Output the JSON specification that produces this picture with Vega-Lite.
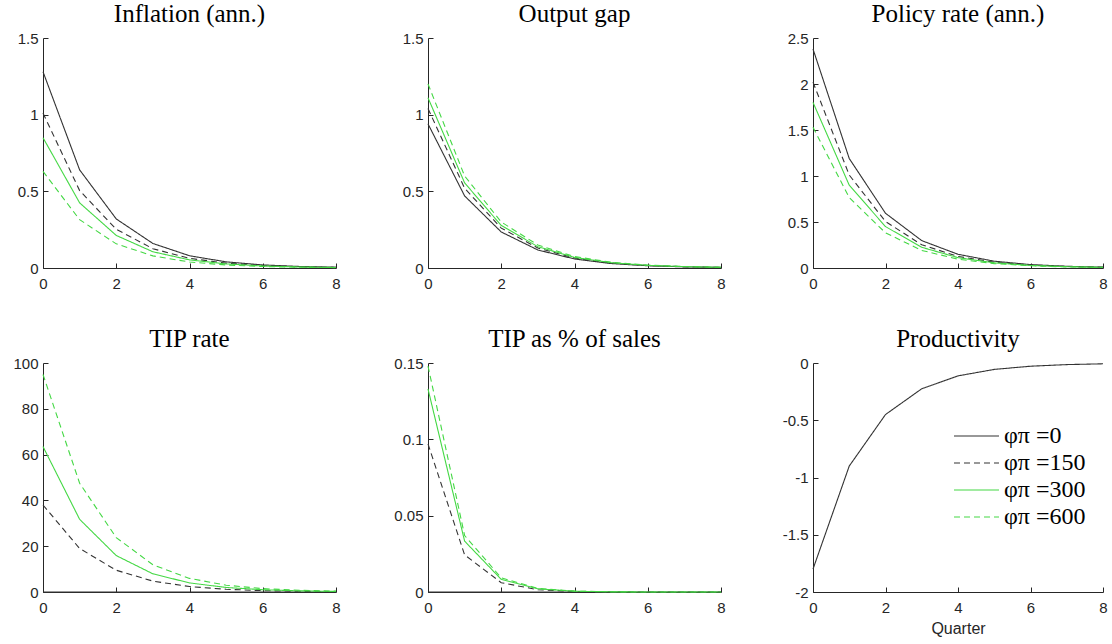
{
  "$schema": "https://vega.github.io/schema/vega-lite/v6.json",
  "padding": {"left": 12, "top": 2, "right": 5, "bottom": 5},
  "background": "white",
  "datasets": {
    "d": [
      {"p":1,"s":"0","q":0,"v":1.28},{"p":1,"s":"0","q":1,"v":0.64},{"p":1,"s":"0","q":2,"v":0.32},{"p":1,"s":"0","q":3,"v":0.16},{"p":1,"s":"0","q":4,"v":0.08},{"p":1,"s":"0","q":5,"v":0.04},{"p":1,"s":"0","q":6,"v":0.02},{"p":1,"s":"0","q":7,"v":0.01},{"p":1,"s":"0","q":8,"v":0.005},
      {"p":1,"s":"150","q":0,"v":1.01},{"p":1,"s":"150","q":1,"v":0.505},{"p":1,"s":"150","q":2,"v":0.2525},{"p":1,"s":"150","q":3,"v":0.126},{"p":1,"s":"150","q":4,"v":0.063},{"p":1,"s":"150","q":5,"v":0.0316},{"p":1,"s":"150","q":6,"v":0.0158},{"p":1,"s":"150","q":7,"v":0.0079},{"p":1,"s":"150","q":8,"v":0.004},
      {"p":1,"s":"300","q":0,"v":0.85},{"p":1,"s":"300","q":1,"v":0.425},{"p":1,"s":"300","q":2,"v":0.2125},{"p":1,"s":"300","q":3,"v":0.106},{"p":1,"s":"300","q":4,"v":0.053},{"p":1,"s":"300","q":5,"v":0.0266},{"p":1,"s":"300","q":6,"v":0.0133},{"p":1,"s":"300","q":7,"v":0.0066},{"p":1,"s":"300","q":8,"v":0.0033},
      {"p":1,"s":"600","q":0,"v":0.63},{"p":1,"s":"600","q":1,"v":0.315},{"p":1,"s":"600","q":2,"v":0.1575},{"p":1,"s":"600","q":3,"v":0.079},{"p":1,"s":"600","q":4,"v":0.039},{"p":1,"s":"600","q":5,"v":0.0197},{"p":1,"s":"600","q":6,"v":0.0098},{"p":1,"s":"600","q":7,"v":0.0049},{"p":1,"s":"600","q":8,"v":0.0025},
      {"p":2,"s":"0","q":0,"v":0.94},{"p":2,"s":"0","q":1,"v":0.47},{"p":2,"s":"0","q":2,"v":0.235},{"p":2,"s":"0","q":3,"v":0.1175},{"p":2,"s":"0","q":4,"v":0.059},{"p":2,"s":"0","q":5,"v":0.029},{"p":2,"s":"0","q":6,"v":0.0147},{"p":2,"s":"0","q":7,"v":0.0073},{"p":2,"s":"0","q":8,"v":0.0037},
      {"p":2,"s":"150","q":0,"v":1.04},{"p":2,"s":"150","q":1,"v":0.52},{"p":2,"s":"150","q":2,"v":0.26},{"p":2,"s":"150","q":3,"v":0.13},{"p":2,"s":"150","q":4,"v":0.065},{"p":2,"s":"150","q":5,"v":0.0325},{"p":2,"s":"150","q":6,"v":0.0163},{"p":2,"s":"150","q":7,"v":0.0081},{"p":2,"s":"150","q":8,"v":0.0041},
      {"p":2,"s":"300","q":0,"v":1.11},{"p":2,"s":"300","q":1,"v":0.555},{"p":2,"s":"300","q":2,"v":0.2775},{"p":2,"s":"300","q":3,"v":0.139},{"p":2,"s":"300","q":4,"v":0.069},{"p":2,"s":"300","q":5,"v":0.0347},{"p":2,"s":"300","q":6,"v":0.0173},{"p":2,"s":"300","q":7,"v":0.0087},{"p":2,"s":"300","q":8,"v":0.0043},
      {"p":2,"s":"600","q":0,"v":1.2},{"p":2,"s":"600","q":1,"v":0.6},{"p":2,"s":"600","q":2,"v":0.3},{"p":2,"s":"600","q":3,"v":0.15},{"p":2,"s":"600","q":4,"v":0.075},{"p":2,"s":"600","q":5,"v":0.0375},{"p":2,"s":"600","q":6,"v":0.0188},{"p":2,"s":"600","q":7,"v":0.0094},{"p":2,"s":"600","q":8,"v":0.0047},
      {"p":3,"s":"0","q":0,"v":2.38},{"p":3,"s":"0","q":1,"v":1.19},{"p":3,"s":"0","q":2,"v":0.595},{"p":3,"s":"0","q":3,"v":0.2975},{"p":3,"s":"0","q":4,"v":0.149},{"p":3,"s":"0","q":5,"v":0.074},{"p":3,"s":"0","q":6,"v":0.037},{"p":3,"s":"0","q":7,"v":0.0186},{"p":3,"s":"0","q":8,"v":0.0093},
      {"p":3,"s":"150","q":0,"v":2.02},{"p":3,"s":"150","q":1,"v":1.01},{"p":3,"s":"150","q":2,"v":0.505},{"p":3,"s":"150","q":3,"v":0.2525},{"p":3,"s":"150","q":4,"v":0.126},{"p":3,"s":"150","q":5,"v":0.063},{"p":3,"s":"150","q":6,"v":0.0316},{"p":3,"s":"150","q":7,"v":0.0158},{"p":3,"s":"150","q":8,"v":0.0079},
      {"p":3,"s":"300","q":0,"v":1.8},{"p":3,"s":"300","q":1,"v":0.9},{"p":3,"s":"300","q":2,"v":0.45},{"p":3,"s":"300","q":3,"v":0.225},{"p":3,"s":"300","q":4,"v":0.1125},{"p":3,"s":"300","q":5,"v":0.056},{"p":3,"s":"300","q":6,"v":0.028},{"p":3,"s":"300","q":7,"v":0.014},{"p":3,"s":"300","q":8,"v":0.007},
      {"p":3,"s":"600","q":0,"v":1.53},{"p":3,"s":"600","q":1,"v":0.765},{"p":3,"s":"600","q":2,"v":0.3825},{"p":3,"s":"600","q":3,"v":0.191},{"p":3,"s":"600","q":4,"v":0.096},{"p":3,"s":"600","q":5,"v":0.048},{"p":3,"s":"600","q":6,"v":0.024},{"p":3,"s":"600","q":7,"v":0.012},{"p":3,"s":"600","q":8,"v":0.006},
      {"p":4,"s":"0","q":0,"v":0},{"p":4,"s":"0","q":1,"v":0},{"p":4,"s":"0","q":2,"v":0},{"p":4,"s":"0","q":3,"v":0},{"p":4,"s":"0","q":4,"v":0},{"p":4,"s":"0","q":5,"v":0},{"p":4,"s":"0","q":6,"v":0},{"p":4,"s":"0","q":7,"v":0},{"p":4,"s":"0","q":8,"v":0},
      {"p":4,"s":"150","q":0,"v":38},{"p":4,"s":"150","q":1,"v":19},{"p":4,"s":"150","q":2,"v":9.5},{"p":4,"s":"150","q":3,"v":4.75},{"p":4,"s":"150","q":4,"v":2.38},{"p":4,"s":"150","q":5,"v":1.19},{"p":4,"s":"150","q":6,"v":0.59},{"p":4,"s":"150","q":7,"v":0.3},{"p":4,"s":"150","q":8,"v":0.15},
      {"p":4,"s":"300","q":0,"v":63.5},{"p":4,"s":"300","q":1,"v":31.75},{"p":4,"s":"300","q":2,"v":15.9},{"p":4,"s":"300","q":3,"v":7.94},{"p":4,"s":"300","q":4,"v":3.97},{"p":4,"s":"300","q":5,"v":1.98},{"p":4,"s":"300","q":6,"v":0.99},{"p":4,"s":"300","q":7,"v":0.5},{"p":4,"s":"300","q":8,"v":0.25},
      {"p":4,"s":"600","q":0,"v":95},{"p":4,"s":"600","q":1,"v":47.5},{"p":4,"s":"600","q":2,"v":23.75},{"p":4,"s":"600","q":3,"v":11.9},{"p":4,"s":"600","q":4,"v":5.94},{"p":4,"s":"600","q":5,"v":2.97},{"p":4,"s":"600","q":6,"v":1.48},{"p":4,"s":"600","q":7,"v":0.74},{"p":4,"s":"600","q":8,"v":0.37},
      {"p":5,"s":"0","q":0,"v":0},{"p":5,"s":"0","q":1,"v":0},{"p":5,"s":"0","q":2,"v":0},{"p":5,"s":"0","q":3,"v":0},{"p":5,"s":"0","q":4,"v":0},{"p":5,"s":"0","q":5,"v":0},{"p":5,"s":"0","q":6,"v":0},{"p":5,"s":"0","q":7,"v":0},{"p":5,"s":"0","q":8,"v":0},
      {"p":5,"s":"150","q":0,"v":0.097},{"p":5,"s":"150","q":1,"v":0.0243},{"p":5,"s":"150","q":2,"v":0.0061},{"p":5,"s":"150","q":3,"v":0.0015},{"p":5,"s":"150","q":4,"v":0.0004},{"p":5,"s":"150","q":5,"v":0.0001},{"p":5,"s":"150","q":6,"v":0},{"p":5,"s":"150","q":7,"v":0},{"p":5,"s":"150","q":8,"v":0},
      {"p":5,"s":"300","q":0,"v":0.133},{"p":5,"s":"300","q":1,"v":0.0333},{"p":5,"s":"300","q":2,"v":0.0083},{"p":5,"s":"300","q":3,"v":0.0021},{"p":5,"s":"300","q":4,"v":0.0005},{"p":5,"s":"300","q":5,"v":0.0001},{"p":5,"s":"300","q":6,"v":0},{"p":5,"s":"300","q":7,"v":0},{"p":5,"s":"300","q":8,"v":0},
      {"p":5,"s":"600","q":0,"v":0.148},{"p":5,"s":"600","q":1,"v":0.037},{"p":5,"s":"600","q":2,"v":0.0093},{"p":5,"s":"600","q":3,"v":0.0023},{"p":5,"s":"600","q":4,"v":0.0006},{"p":5,"s":"600","q":5,"v":0.00015},{"p":5,"s":"600","q":6,"v":0},{"p":5,"s":"600","q":7,"v":0},{"p":5,"s":"600","q":8,"v":0},
      {"p":6,"s":"0","q":0,"v":-1.8},{"p":6,"s":"0","q":1,"v":-0.9},{"p":6,"s":"0","q":2,"v":-0.45},{"p":6,"s":"0","q":3,"v":-0.225},{"p":6,"s":"0","q":4,"v":-0.1125},{"p":6,"s":"0","q":5,"v":-0.056},{"p":6,"s":"0","q":6,"v":-0.028},{"p":6,"s":"0","q":7,"v":-0.014},{"p":6,"s":"0","q":8,"v":-0.007}
    ]
  },
  "config": {
    "view": {"stroke": null},
    "axis": {"grid": false, "domainColor": "#262626", "domainWidth": 1, "tickColor": "#262626", "tickSize": -5, "labelColor": "#262626", "labelFont": "Liberation Sans", "labelFontSize": 15, "labelFlush": false, "labelOverlap": false, "titleFont": "Liberation Sans", "titleFontSize": 16, "titleFontWeight": "normal", "titleColor": "#262626", "labelExpr": "'' + datum.value"},
    "axisX": {"labelPadding": 13},
    "axisY": {"labelPadding": 10},
    "title": {"font": "Liberation Serif", "fontSize": 25, "fontWeight": "normal", "color": "#000000", "offset": 4, "anchor": "middle"},
    "line": {"strokeWidth": 1.1}
  },
  "columns": 3,
  "spacing": {"row": 95, "column": 92},
  "bounds": "flush",
  "resolve": {
    "scale": {"x": "independent", "y": "independent", "color": "independent", "strokeDash": "independent"},
    "legend": {"color": "independent", "strokeDash": "independent"}
  },
  "concat": [
    {
      "title": "Inflation (ann.)", "width": 293, "height": 230,
      "data": {"name": "d"}, "transform": [{"filter": "datum.p == 1"}],
      "mark": "line",
      "encoding": {
        "x": {"field": "q", "type": "quantitative", "scale": {"domain": [0, 8]}, "axis": {"values": [0, 2, 4, 6, 8], "title": null}},
        "y": {"field": "v", "type": "quantitative", "scale": {"domain": [0, 1.5]}, "axis": {"values": [0, 0.5, 1, 1.5], "title": null}},
        "color": {"field": "s", "type": "nominal", "scale": {"domain": ["0", "150", "300", "600"], "range": ["#333333", "#333333", "#44d844", "#44d844"]}, "legend": null},
        "strokeDash": {"field": "s", "type": "nominal", "scale": {"domain": ["0", "150", "300", "600"], "range": [[1, 0], [6, 4], [1, 0], [6, 4]]}, "legend": null}
      }
    },
    {
      "title": "Output gap", "width": 293, "height": 230,
      "data": {"name": "d"}, "transform": [{"filter": "datum.p == 2"}],
      "mark": "line",
      "encoding": {
        "x": {"field": "q", "type": "quantitative", "scale": {"domain": [0, 8]}, "axis": {"values": [0, 2, 4, 6, 8], "title": null}},
        "y": {"field": "v", "type": "quantitative", "scale": {"domain": [0, 1.5]}, "axis": {"values": [0, 0.5, 1, 1.5], "title": null}},
        "color": {"field": "s", "type": "nominal", "scale": {"domain": ["0", "150", "300", "600"], "range": ["#333333", "#333333", "#44d844", "#44d844"]}, "legend": null},
        "strokeDash": {"field": "s", "type": "nominal", "scale": {"domain": ["0", "150", "300", "600"], "range": [[1, 0], [6, 4], [1, 0], [6, 4]]}, "legend": null}
      }
    },
    {
      "title": "Policy rate (ann.)", "width": 290, "height": 230,
      "data": {"name": "d"}, "transform": [{"filter": "datum.p == 3"}],
      "mark": "line",
      "encoding": {
        "x": {"field": "q", "type": "quantitative", "scale": {"domain": [0, 8]}, "axis": {"values": [0, 2, 4, 6, 8], "title": null}},
        "y": {"field": "v", "type": "quantitative", "scale": {"domain": [0, 2.5]}, "axis": {"values": [0, 0.5, 1, 1.5, 2, 2.5], "title": null}},
        "color": {"field": "s", "type": "nominal", "scale": {"domain": ["0", "150", "300", "600"], "range": ["#333333", "#333333", "#44d844", "#44d844"]}, "legend": null},
        "strokeDash": {"field": "s", "type": "nominal", "scale": {"domain": ["0", "150", "300", "600"], "range": [[1, 0], [6, 4], [1, 0], [6, 4]]}, "legend": null}
      }
    },
    {
      "title": "TIP rate", "width": 293, "height": 229,
      "data": {"name": "d"}, "transform": [{"filter": "datum.p == 4"}],
      "mark": "line",
      "encoding": {
        "x": {"field": "q", "type": "quantitative", "scale": {"domain": [0, 8]}, "axis": {"values": [0, 2, 4, 6, 8], "title": null}},
        "y": {"field": "v", "type": "quantitative", "scale": {"domain": [0, 100]}, "axis": {"values": [0, 20, 40, 60, 80, 100], "title": null}},
        "color": {"field": "s", "type": "nominal", "scale": {"domain": ["0", "150", "300", "600"], "range": ["#333333", "#333333", "#44d844", "#44d844"]}, "legend": null},
        "strokeDash": {"field": "s", "type": "nominal", "scale": {"domain": ["0", "150", "300", "600"], "range": [[1, 0], [6, 4], [1, 0], [6, 4]]}, "legend": null}
      }
    },
    {
      "title": "TIP as % of sales", "width": 293, "height": 229,
      "data": {"name": "d"}, "transform": [{"filter": "datum.p == 5"}],
      "mark": "line",
      "encoding": {
        "x": {"field": "q", "type": "quantitative", "scale": {"domain": [0, 8]}, "axis": {"values": [0, 2, 4, 6, 8], "title": null}},
        "y": {"field": "v", "type": "quantitative", "scale": {"domain": [0, 0.15]}, "axis": {"values": [0, 0.05, 0.1, 0.15], "title": null}},
        "color": {"field": "s", "type": "nominal", "scale": {"domain": ["0", "150", "300", "600"], "range": ["#333333", "#333333", "#44d844", "#44d844"]}, "legend": null},
        "strokeDash": {"field": "s", "type": "nominal", "scale": {"domain": ["0", "150", "300", "600"], "range": [[1, 0], [6, 4], [1, 0], [6, 4]]}, "legend": null}
      }
    },
    {
      "title": "Productivity", "width": 290, "height": 229,
      "data": {"name": "d"}, "transform": [{"filter": "datum.p == 6"}],
      "mark": "line",
      "encoding": {
        "x": {"field": "q", "type": "quantitative", "scale": {"domain": [0, 8]}, "axis": {"values": [0, 2, 4, 6, 8], "title": "Quarter", "titlePadding": 5}},
        "y": {"field": "v", "type": "quantitative", "scale": {"domain": [-2, 0]}, "axis": {"values": [-2, -1.5, -1, -0.5, 0], "title": null}},
        "color": {"field": "s", "type": "nominal", "scale": {"domain": ["0", "150", "300", "600"], "range": ["#333333", "#333333", "#44d844", "#44d844"]}, "legend": {"orient": "none", "legendX": 140, "legendY": 61, "title": null, "symbolType": "stroke", "symbolSize": 2025, "symbolStrokeWidth": 1.1, "labelFont": "Liberation Serif", "labelFontSize": 24, "labelColor": "#000000", "clipHeight": 24, "rowPadding": 3, "labelOffset": 4, "labelExpr": "'φπ =' + datum.label"}},
        "strokeDash": {"field": "s", "type": "nominal", "scale": {"domain": ["0", "150", "300", "600"], "range": [[1, 0], [6, 4], [1, 0], [6, 4]]}}
      }
    }
  ]
}
